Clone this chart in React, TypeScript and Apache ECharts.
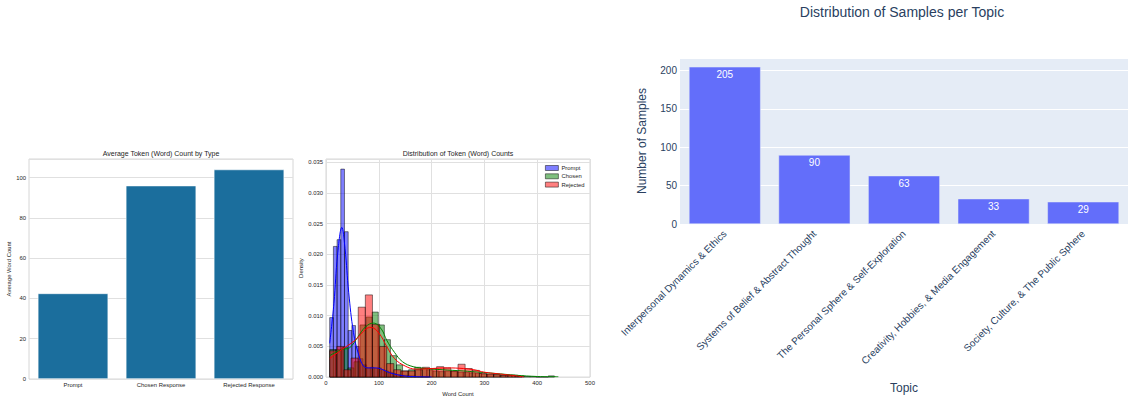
import React, { useEffect, useRef } from "react";
import * as echarts from "echarts";

// ---- Panel 1: average word count by type ----
const typeLabels = ["Prompt", "Chosen Response", "Rejected Response"];
const avgWordCounts = [42.5, 96, 104];

// ---- Panel 2: histograms (density) ----
const promptBinStart = 7;
const promptBinWidth = 7;
const promptDensity = [
  0.0097, 0.0213, 0.0224, 0.0339, 0.0237, 0.0076, 0.0084, 0.005, 0.003, 0.002,
  0.0015, 0.0016, 0.0014, 0.0015, 0.0012, 0.001, 0.0008, 0.0006, 0.0004, 0.0003,
  0.0003, 0.0002, 0.0002, 0.0001, 0.0001, 0.0001, 0.0001,
];
const chosenBinStart = 7;
const chosenBinWidth = 11.5;
const chosenDensity = [
  0.0045, 0.0045, 0.0048, 0.0015, 0.0025, 0.0085, 0.0098, 0.0106, 0.0085, 0.0061,
  0.0035, 0.002, 0.001, 0.0012, 0.0016, 0.0014, 0.0012, 0.001, 0.0009, 0.001,
  0.0009, 0.0008, 0.0008, 0.0007, 0.0006, 0.0005, 0.0004, 0.0004, 0.0003, 0.0003,
  0.0003, 0.0002, 0.0001, 0.0001, 0, 0, 0.0002,
];
const rejectedBinStart = 7;
const rejectedBinWidth = 13.5;
const rejectedDensity = [
  0.0043, 0.005, 0.0012, 0.0031, 0.0114, 0.0134, 0.0086, 0.005, 0.0022, 0.0012,
  0.001, 0.001, 0.0012, 0.0016, 0.0014, 0.0017, 0.0015, 0.001, 0.0021, 0.0014,
  0.0011, 0.0006, 0.0005, 0.0004, 0.0003, 0.0003, 0.0001,
];
const promptKde = [
  [7, 0.0055], [15, 0.012], [22, 0.02], [30, 0.0244], [36, 0.021], [43, 0.0138],
  [52, 0.0073], [62, 0.0036], [71, 0.0018], [80, 0.0015], [95, 0.0015], [105, 0.0013],
  [115, 0.0009], [125, 0.0006], [140, 0.0003], [160, 0.0001], [200, 0.0],
];
const chosenKde = [
  [7, 0.0035], [30, 0.0045], [45, 0.0048], [60, 0.0065], [75, 0.0082], [90, 0.0088],
  [105, 0.0078], [115, 0.006], [130, 0.004], [145, 0.0025], [165, 0.0017], [190, 0.0014],
  [220, 0.0012], [260, 0.001], [290, 0.0008], [320, 0.0006], [360, 0.0003], [400, 0.0001],
  [440, 0.00005],
];
const rejectedKde = [
  [7, 0.003], [30, 0.0045], [55, 0.006], [75, 0.0078], [85, 0.0081], [100, 0.0072],
  [115, 0.005], [130, 0.003], [150, 0.0018], [170, 0.0013], [200, 0.0014], [230, 0.0015],
  [260, 0.0014], [280, 0.0012], [300, 0.0008], [330, 0.0005], [360, 0.0002], [375, 0.0],
];

// ---- Panel 3: samples per topic ----
const topics = [
  "Interpersonal Dynamics & Ethics",
  "Systems of Belief & Abstract Thought",
  "The Personal Sphere & Self-Exploration",
  "Creativity, Hobbies, & Media Engagement",
  "Society, Culture, & The Public Sphere",
];
const topicCounts = [205, 90, 63, 33, 29];

const MPL_FONT = "Liberation Sans";
const MPL_TEXT = "#262626";
const PLY_TEXT = "#2a3f5f";
const EDGE = "rgba(0,0,0,0.6)";

function bins(start: number, width: number, dens: number[]) {
  return dens.map((d, i) => [start + i * width, start + (i + 1) * width, d]);
}

function histSeries(name: string, data: number[][], fill: string) {
  return {
    type: "custom",
    name,
    xAxisIndex: 1,
    yAxisIndex: 1,
    data,
    encode: { x: [0, 1], y: 2 },
    itemStyle: { color: fill, borderColor: EDGE, borderWidth: 0.8 },
    renderItem: (_p: any, api: any) => {
      const a = api.coord([api.value(0), api.value(2)]);
      const b = api.coord([api.value(1), 0]);
      return {
        type: "rect",
        shape: { x: a[0], y: a[1], width: b[0] - a[0], height: b[1] - a[1] },
        style: { fill, stroke: EDGE, lineWidth: 0.8 },
      };
    },
  };
}

function kdeSeries(name: string, data: number[][], color: string) {
  return {
    type: "line",
    name,
    xAxisIndex: 1,
    yAxisIndex: 1,
    data,
    smooth: 0.4,
    showSymbol: false,
    symbol: "none",
    lineStyle: { color, width: 1 },
  };
}

export default function App() {
  const ref = useRef<HTMLDivElement>(null);
  useEffect(() => {
    if (!ref.current) return;
    const chart = echarts.init(ref.current, undefined, { renderer: "svg" });
    const mplTick = { fontSize: 5.9, color: MPL_TEXT, fontFamily: MPL_FONT };
    const option: any = {
      animation: false,
      backgroundColor: "#ffffff",
      graphic: [
        {
          type: "text", x: 161, y: 153,
          style: { text: "Average Token (Word) Count by Type", fontSize: 7, fontFamily: MPL_FONT, fill: MPL_TEXT, textAlign: "center", textVerticalAlign: "middle" },
        },
        {
          type: "text", x: 458, y: 153,
          style: { text: "Distribution of Token (Word) Counts", fontSize: 7, fontFamily: MPL_FONT, fill: MPL_TEXT, textAlign: "center", textVerticalAlign: "middle" },
        },
        {
          type: "text", x: 902, y: 12,
          style: { text: "Distribution of Samples per Topic", fontSize: 14, fontFamily: MPL_FONT, fill: PLY_TEXT, textAlign: "center", textVerticalAlign: "middle" },
        },
      ],
      legend: {
        orient: "vertical",
        left: 543,
        top: 163,
        itemWidth: 13,
        itemHeight: 5,
        itemGap: 2.3,
        icon: "rect",
        padding: 2,
        textStyle: { fontSize: 5.9, color: MPL_TEXT, fontFamily: MPL_FONT, padding: [0, 0, 0, -2] },
        data: [
          { name: "Prompt", itemStyle: { color: "rgba(0,0,255,0.5)", borderColor: EDGE, borderWidth: 0.8 } },
          { name: "Chosen", itemStyle: { color: "rgba(0,128,0,0.5)", borderColor: EDGE, borderWidth: 0.8 } },
          { name: "Rejected", itemStyle: { color: "rgba(255,0,0,0.5)", borderColor: EDGE, borderWidth: 0.8 } },
        ],
      },
      grid: [
        { left: 29, top: 159, width: 264, height: 220, show: true, borderColor: "#d6d6d6", borderWidth: 1, backgroundColor: "#fff" },
        { left: 326, top: 159, width: 264, height: 220, show: true, borderColor: "#d6d6d6", borderWidth: 1, backgroundColor: "#fff" },
        { left: 680, top: 58, width: 448, height: 166, show: true, borderWidth: 0, backgroundColor: "#E5ECF6" },
      ],
      xAxis: [
        {
          gridIndex: 0, type: "category", data: typeLabels,
          axisLine: { show: false }, axisTick: { show: false }, splitLine: { show: false },
          axisLabel: { ...mplTick, margin: 2.5 },
        },
        {
          gridIndex: 1, type: "value", min: 0, max: 500, interval: 100,
          name: "Word Count", nameLocation: "middle", nameGap: 10,
          nameTextStyle: { ...mplTick },
          axisLine: { show: false }, axisTick: { show: false },
          splitLine: { show: true, lineStyle: { color: "#e0e0e0", width: 1 } },
          axisLabel: { ...mplTick, margin: 3 },
        },
        {
          gridIndex: 2, type: "category", data: topics,
          axisLine: { show: false }, axisTick: { show: false }, splitLine: { show: false },
          axisLabel: { rotate: 45, interval: 0, fontSize: 10, color: PLY_TEXT, fontFamily: MPL_FONT, margin: 8 },
          name: "Topic", nameLocation: "middle", nameGap: 158,
          nameTextStyle: { fontSize: 12, color: PLY_TEXT, fontFamily: MPL_FONT },
        },
      ],
      yAxis: [
        {
          gridIndex: 0, type: "value", min: 0, max: 109.2, interval: 20,
          name: "Average Word Count", nameLocation: "middle", nameGap: 12,
          nameTextStyle: { ...mplTick },
          axisLine: { show: false }, axisTick: { show: false },
          splitLine: { show: true, lineStyle: { color: "#e0e0e0", width: 1 } },
          axisLabel: { ...mplTick, margin: 3, showMaxLabel: false },
        },
        {
          gridIndex: 1, type: "value", min: 0, max: 0.03555, interval: 0.005,
          name: "Density", nameLocation: "middle", nameGap: 18,
          nameTextStyle: { ...mplTick },
          axisLine: { show: false }, axisTick: { show: false },
          splitLine: { show: true, lineStyle: { color: "#e0e0e0", width: 1 } },
          axisLabel: { ...mplTick, margin: 3, showMaxLabel: false, formatter: (v: number) => v.toFixed(3) },
        },
        {
          gridIndex: 2, type: "value", min: 0, max: 216.5, interval: 50,
          name: "Number of Samples", nameLocation: "middle", nameGap: 32,
          nameTextStyle: { fontSize: 12, color: PLY_TEXT, fontFamily: MPL_FONT },
          axisLine: { show: false }, axisTick: { show: false },
          splitLine: { show: true, lineStyle: { color: "#ffffff", width: 1 } },
          axisLabel: { fontSize: 10, color: PLY_TEXT, fontFamily: MPL_FONT, margin: 3, showMaxLabel: false },
        },
      ],
      series: [
        {
          type: "bar", name: "avg", xAxisIndex: 0, yAxisIndex: 0, data: avgWordCounts,
          barWidth: "80%", itemStyle: { color: "#1b6e9d", borderColor: "#ffffff", borderWidth: 0.6 },
        },
        histSeries("Prompt", bins(promptBinStart, promptBinWidth, promptDensity), "rgba(0,0,255,0.5)"),
        kdeSeries("Prompt KDE", promptKde, "#0000ff"),
        histSeries("Chosen", bins(chosenBinStart, chosenBinWidth, chosenDensity), "rgba(0,128,0,0.5)"),
        kdeSeries("Chosen KDE", chosenKde, "#008000"),
        histSeries("Rejected", bins(rejectedBinStart, rejectedBinWidth, rejectedDensity), "rgba(255,0,0,0.5)"),
        kdeSeries("Rejected KDE", rejectedKde, "#ff0000"),
        {
          type: "bar", name: "topics", xAxisIndex: 2, yAxisIndex: 2, data: topicCounts,
          barWidth: "80%",
          itemStyle: { color: "#636EFA", borderColor: "#E5ECF6", borderWidth: 0.5 },
          label: { show: true, position: "insideTop", distance: 3, color: "#ffffff", fontSize: 10, fontFamily: MPL_FONT },
        },
      ],
    };
    chart.setOption(option);
    return () => chart.dispose();
  }, []);
  return (
    <div
      ref={ref}
      style={{ position: "absolute", left: 0, top: 0, width: 1136, height: 402 }}
    />
  );
}
